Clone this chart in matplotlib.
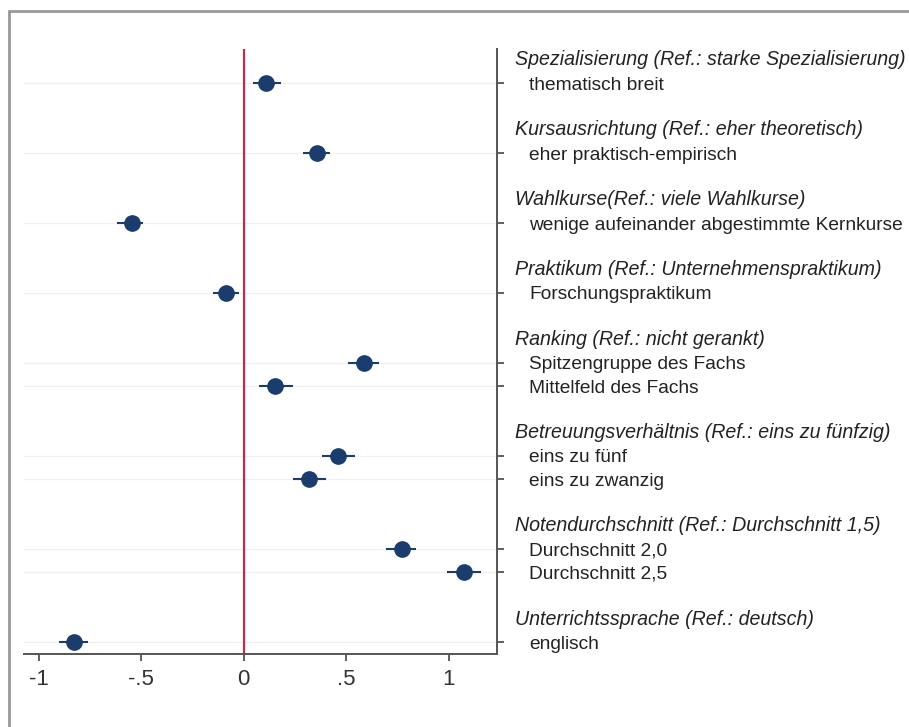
import matplotlib.pyplot as plt
import matplotlib.transforms as mtransforms
from matplotlib.patches import Rectangle

plt.rcParams['font.family'] = ['Liberation Sans', 'DejaVu Sans']

# groups with reference category, then the levels shown
groups = [
    'Spezialisierung (Ref.: starke Spezialisierung)',
    'Kursausrichtung (Ref.: eher theoretisch)',
    'Wahlkurse(Ref.: viele Wahlkurse)',
    'Praktikum (Ref.: Unternehmenspraktikum)',
    'Ranking (Ref.: nicht gerankt)',
    'Betreuungsverhältnis (Ref.: eins zu fünfzig)',
    'Notendurchschnitt (Ref.: Durchschnitt 1,5)',
    'Unterrichtssprache (Ref.: deutsch)',
]
levels = [
    ['thematisch breit'],
    ['eher praktisch-empirisch'],
    ['wenige aufeinander abgestimmte Kernkurse'],
    ['Forschungspraktikum'],
    ['Spitzengruppe des Fachs', 'Mittelfeld des Fachs'],
    ['eins zu fünf', 'eins zu zwanzig'],
    ['Durchschnitt 2,0', 'Durchschnitt 2,5'],
    ['englisch'],
]
coef = [0.11, 0.357, -0.547, -0.088, 0.585, 0.154, 0.462, 0.32, 0.772, 1.077, -0.83]
ci_low = [0.045, 0.29, -0.62, -0.15, 0.51, 0.075, 0.383, 0.24, 0.694, 0.994, -0.90]
ci_high = [0.18, 0.42, -0.49, -0.025, 0.66, 0.24, 0.542, 0.40, 0.84, 1.16, -0.76]

# row positions: header, levels, blank line between groups
header_pos, item_pos, item_labels = [], [], []
row = 0
for g, lv in zip(groups, levels):
    header_pos.append(row)
    row += 1
    for name in lv:
        item_pos.append(row)
        item_labels.append(name)
        row += 1
    row += 1

navy = '#1b3d6d'
fig = plt.figure(figsize=(9.09, 7.27), dpi=100)
ax = fig.add_axes([24 / 909, 73 / 727, 473 / 909, 605 / 727])

for y in item_pos:
    ax.axhline(y, color='#f0f0f0', lw=1, zorder=0)
ax.axvline(0, color='#c4294f', lw=1.6, zorder=1)

xerr = [[c - l for c, l in zip(coef, ci_low)], [h - c for c, h in zip(coef, ci_high)]]
ax.errorbar(coef, item_pos, xerr=xerr, fmt='o', color=navy, ms=11,
            elinewidth=1.5, capsize=0, zorder=3)

ax.set_xlim(-1.073, 1.236)
ax.set_ylim(row - 1.5, -0.47)
ax.set_xticks([-1, -0.5, 0, 0.5, 1])
ax.set_xticklabels(['-1', '-.5', '0', '.5', '1'])

ax.yaxis.tick_right()
ax.set_yticks(item_pos)
ax.set_yticklabels(item_labels)
ax.tick_params(axis='y', length=5, width=1.2, color='#444444', pad=18, labelsize=13.8, labelcolor='#222222')
ax.tick_params(axis='x', length=5, width=1.2, color='#444444', pad=6, labelsize=16, labelcolor='#333333')

for s in ['top', 'left']:
    ax.spines[s].set_visible(False)
for s in ['right', 'bottom']:
    ax.spines[s].set_color('#555555')
    ax.spines[s].set_linewidth(1.4)

trans = mtransforms.blended_transform_factory(ax.transAxes, ax.transData)
for g, y in zip(groups, header_pos):
    ax.annotate(g, xy=(1, y), xycoords=trans, xytext=(13, 0), textcoords='offset points',
                ha='left', va='center', fontsize=14.1, style='italic', color='#222222',
                annotation_clip=False)

fig.patches.append(Rectangle((9 / 909, -0.1), 1.2, 1.1 - 11 / 727, transform=fig.transFigure,
                             fill=False, edgecolor='#999999', lw=2))

fig.savefig('out.png', dpi=100)
